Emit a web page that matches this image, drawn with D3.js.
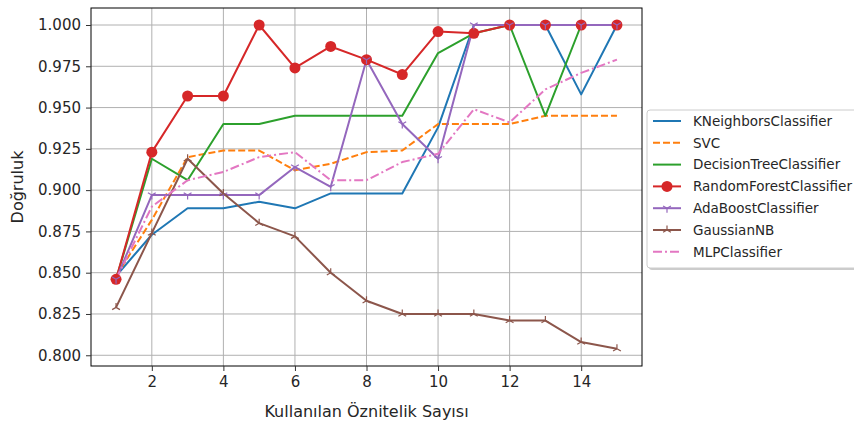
<!DOCTYPE html>
<html>
<head>
<meta charset="utf-8">
<script src="https://cdn.jsdelivr.net/npm/d3@7"></script>
<style>
body { margin: 0; background: #fff; }
text { font-family: "DejaVu Sans", sans-serif; }
</style>
</head>
<body>
<script>
// feature counts on the x axis
var features = [1,2,3,4,5,6,7,8,9,10,11,12,13,14,15]
var yTicks = [0.800,0.825,0.850,0.875,0.900,0.925,0.950,0.975,1.000]
var xTicks = [2,4,6,8,10,12,14]

var knn   = [0.848,0.873,0.889,0.889,0.893,0.889,0.898,0.898,0.898,0.938,1.000,1.000,1.000,0.958,1.000]
var svc   = [0.848,0.882,0.920,0.924,0.924,0.912,0.916,0.923,0.924,0.940,0.940,0.940,0.945,0.945,0.945]
var dtree = [0.846,0.919,0.906,0.940,0.940,0.945,0.945,0.945,0.945,0.983,0.995,1.000,0.945,1.000,1.000]
var rf    = [0.846,0.923,0.957,0.957,1.000,0.974,0.987,0.979,0.970,0.996,0.995,1.000,1.000,1.000,1.000]
var ada   = [0.846,0.897,0.897,0.897,0.897,0.914,0.902,0.979,0.940,0.919,1.000,1.000,1.000,1.000,1.000]
var gnb   = [0.829,0.874,0.919,0.898,0.880,0.872,0.850,0.833,0.825,0.825,0.825,0.821,0.821,0.808,0.804]
var mlp   = [0.846,0.890,0.906,0.911,0.920,0.923,0.906,0.906,0.917,0.922,0.949,0.941,0.961,0.971,0.979]

var names = ['KNeighborsClassifier','SVC','DecisionTreeClassifier','RandomForestClassifier','AdaBoostClassifier','GaussianNB','MLPClassifier']
var allVals = [knn, svc, dtree, rf, ada, gnb, mlp]
var colors = ['#1f77b4','#ff7f0e','#2ca02c','#d62728','#9467bd','#8c564b','#e377c2']
var dashes = [null,'7,3',null,null,null,null,'9,3,2,3']
var markers = [null,null,null,'o','tri_down','tri_up',null]

var W = 854, H = 424
var pLeft = 91, pRight = 642, pTop = 8, pBottom = 366

var svg = d3.select('body').append('svg').attr('width', W).attr('height', H)

var x = d3.scaleLinear().domain([0.3, 15.7]).range([pLeft, pRight])
var y = d3.scaleLinear().domain([0.7935, 1.0103]).range([pBottom, pTop])

// grid
var g = svg.append('g')
g.selectAll('.vg').data(xTicks).enter().append('line')
	.attr('x1', d => x(d)).attr('x2', d => x(d)).attr('y1', pTop).attr('y2', pBottom)
	.attr('stroke', '#b0b0b0').attr('stroke-width', 1)
g.selectAll('.hg').data(yTicks).enter().append('line')
	.attr('y1', d => y(d)).attr('y2', d => y(d)).attr('x1', pLeft).attr('x2', pRight)
	.attr('stroke', '#b0b0b0').attr('stroke-width', 1)

var line = d3.line().x((d,i) => x(features[i])).y(d => y(d))

allVals.forEach((vals, k) => {
	svg.append('path').datum(vals)
		.attr('d', line)
		.attr('fill', 'none')
		.attr('stroke', colors[k])
		.attr('stroke-width', 2)
		.attr('stroke-dasharray', dashes[k])
		.attr('stroke-linejoin', 'round')
})

function drawMarker(sel, type, color, cx, cy) {
	if (type == 'o') {
		sel.append('circle').attr('cx', cx).attr('cy', cy).attr('r', 5.5).attr('fill', color)
	} else if (type == 'tri_down' || type == 'tri_up') {
		var s = type == 'tri_down' ? 1 : -1
		var r = 4.5
		var pts = [[0, r*s], [-r*0.87, -r*0.5*s], [r*0.87, -r*0.5*s]]
		pts.forEach(p => {
			sel.append('line').attr('x1', cx).attr('y1', cy).attr('x2', cx+p[0]).attr('y2', cy+p[1])
				.attr('stroke', color).attr('stroke-width', 1.2)
		})
	}
}

allVals.forEach((vals, k) => {
	if (!markers[k]) return
	var mg = svg.append('g')
	vals.forEach((v, i) => drawMarker(mg, markers[k], colors[k], x(features[i]), y(v)))
})

// frame
svg.append('rect').attr('x', pLeft).attr('y', pTop).attr('width', pRight-pLeft).attr('height', pBottom-pTop)
	.attr('fill', 'none').attr('stroke', '#000').attr('stroke-width', 1)

// axes
var xAxis = svg.append('g').attr('transform', 'translate(0,'+pBottom+')')
	.call(d3.axisBottom(x).tickValues(xTicks).tickFormat(d3.format('d')).tickSize(5).tickPadding(5))
var yAxis = svg.append('g').attr('transform', 'translate('+pLeft+',0)')
	.call(d3.axisLeft(y).tickValues(yTicks).tickFormat(d3.format('.3f')).tickSize(5).tickPadding(5))
;[xAxis, yAxis].forEach(a => {
	a.select('.domain').remove()
	a.selectAll('text').attr('font-size', 15).attr('fill', '#262626').attr('font-family', 'DejaVu Sans')
	a.selectAll('line').attr('stroke', '#333')
})

svg.append('text').attr('x', (pLeft+pRight)/2).attr('y', 417).attr('text-anchor', 'middle')
	.attr('font-size', 16).attr('fill', '#262626').text('Kullanılan Öznitelik Sayısı')
svg.append('text').attr('transform', 'translate(23,' + ((pTop+pBottom)/2) + ') rotate(-90)')
	.attr('text-anchor', 'middle').attr('font-size', 16).attr('fill', '#262626').text('Doğruluk')

// legend
var lx = 647, ly = 110, rowH = 21.8
svg.append('rect').attr('x', lx+2).attr('y', ly+2).attr('width', 220).attr('height', 158)
	.attr('rx', 3).attr('fill', '#999').attr('opacity', 0.5)
svg.append('rect').attr('x', lx).attr('y', ly).attr('width', 220).attr('height', 158)
	.attr('rx', 3).attr('fill', '#fff').attr('stroke', '#ccc')
names.forEach((n, k) => {
	var cy = ly + 11 + k*rowH
	var lg = svg.append('g')
	lg.append('line').attr('x1', lx+6).attr('x2', lx+34).attr('y1', cy).attr('y2', cy)
		.attr('stroke', colors[k]).attr('stroke-width', 2).attr('stroke-dasharray', dashes[k])
	if (markers[k]) drawMarker(lg, markers[k], colors[k], lx+20, cy)
	lg.append('text').attr('x', lx+46).attr('y', cy).attr('dy', '0.35em')
		.attr('font-size', 13.5).attr('fill', '#262626').text(n)
})
</script>
</body>
</html>
